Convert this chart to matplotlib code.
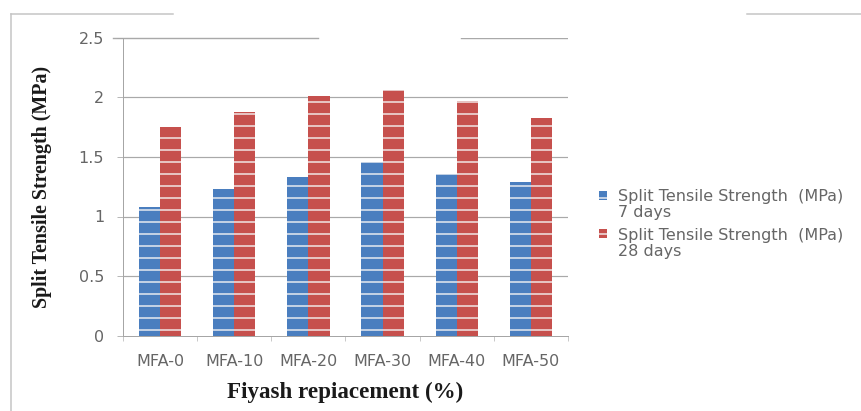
import numpy as np
import matplotlib
matplotlib.use("Agg")
import matplotlib.pyplot as plt
from matplotlib.patches import Rectangle, Patch
from matplotlib.lines import Line2D
from matplotlib.legend_handler import HandlerPatch

# --- data -------------------------------------------------------------
categories = ["MFA-0", "MFA-10", "MFA-20", "MFA-30", "MFA-40", "MFA-50"]
strength_7d = [1.08, 1.23, 1.33, 1.46, 1.36, 1.29]
strength_28d = [1.75, 1.88, 2.01, 2.06, 1.97, 1.83]
series_labels = ["Split Tensile Strength  (MPa)\n7 days",
                 "Split Tensile Strength  (MPa)\n28 days"]
y_ticks = [0, 0.5, 1, 1.5, 2, 2.5]
y_tick_labels = ["0", "0.5", "1", "1.5", "2", "2.5"]

# --- style ------------------------------------------------------------
BLUE = "#4A7EBF"
RED = "#C6504D"
GRID = "#A9A9A9"
AXIS = "#A6A6A6"
TEXT = "#666666"
FRAME = "#C4C4C4"

plt.rcParams["hatch.linewidth"] = 1.4
plt.rcParams["font.family"] = ["DejaVu Sans"]

DPI = 72
W, H = 861, 411
fig = plt.figure(figsize=(W / DPI, H / DPI), dpi=DPI)
fig.patch.set_facecolor("white")

ax_left, ax_right, ax_top, ax_bottom = 123, 568, 37.7, 335.7
ax = fig.add_axes([ax_left / W, 1 - ax_bottom / H,
                   (ax_right - ax_left) / W, (ax_bottom - ax_top) / H])

x = np.arange(len(categories))
width = 0.285
ax.bar(x - width / 2, strength_7d, width, color=BLUE, edgecolor="#f4f4f4",
       linewidth=0, hatch="-", zorder=3)
ax.bar(x + width / 2, strength_28d, width, color=RED, edgecolor="#f4f4f4",
       linewidth=0, hatch="-", zorder=3)

ax.set_xlim(-0.5, len(categories) - 0.5)
ax.set_ylim(0, 2.5)

# horizontal gridlines; the top one is interrupted in the middle
for v in y_ticks[1:-1]:
    ax.axhline(v, color=GRID, lw=1.2, zorder=1)
ax.axhline(y_ticks[-1], xmin=-0.023, xmax=0.438, color=GRID, lw=1.4,
           zorder=1, clip_on=False)
ax.axhline(y_ticks[-1], xmin=0.76, xmax=1.0, color=GRID, lw=1.4, zorder=1)

for s in ["top", "right"]:
    ax.spines[s].set_visible(False)
for s in ["left", "bottom"]:
    ax.spines[s].set_color(AXIS)
    ax.spines[s].set_linewidth(1.0)

ax.set_yticks(y_ticks)
ax.set_yticklabels(y_tick_labels)
ax.tick_params(axis="y", length=6, color=AXIS, pad=13, labelsize=16,
               labelcolor=TEXT)

ax.set_xticks(x)
ax.set_xticklabels(categories)
ax.set_xticks(np.arange(len(categories) + 1) - 0.5, minor=True)
ax.tick_params(axis="x", which="major", length=0, pad=18, labelsize=16,
               labelcolor=TEXT)
ax.tick_params(axis="x", which="minor", length=5, color=AXIS)

ax.set_ylabel("Split Tensile Strength (MPa)", family="Liberation Serif",
              fontweight="bold", fontsize=20, color="#1a1a1a")
ax.yaxis.set_label_coords(-0.16, 0.5)
ax.set_xlabel("Fiyash repiacement (%)", family="Liberation Serif",
              fontweight="bold", fontsize=23, color="#1a1a1a", labelpad=13)


# legend: small square marker aligned with the first line of each label
class TopSquare(HandlerPatch):
    def create_artists(self, legend, orig_handle, xdescent, ydescent,
                       width, height, fontsize, trans):
        p = Rectangle((-xdescent, -ydescent + 0.6 * fontsize), width, height,
                      facecolor=orig_handle.get_facecolor(),
                      edgecolor="#f4f4f4", linewidth=0, hatch="-",
                      transform=trans)
        return [p]


handles = [Patch(facecolor=BLUE), Patch(facecolor=RED)]
leg = fig.legend(handles, series_labels, loc="center left",
                 bbox_to_anchor=(599 / W, 1 - 224 / H), frameon=False,
                 fontsize=16, handlelength=0.5, handleheight=0.5,
                 handletextpad=0.7, labelspacing=0.45, borderpad=0,
                 borderaxespad=0,
                 handler_map={Patch: TopSquare()})
for t in leg.get_texts():
    t.set_color(TEXT)
    t.set_linespacing(1.08)

# outer frame fragments of the chart area
frame_lines = [([11, 11], [14, H]), ([11, 173], [14, 14]), ([747, W], [14, 14])]
for xs, ys in frame_lines:
    fig.add_artist(Line2D([v / W for v in xs], [1 - v / H for v in ys],
                          transform=fig.transFigure, color=FRAME, lw=1.5))

fig.savefig("out.png", dpi=DPI, facecolor="white")
